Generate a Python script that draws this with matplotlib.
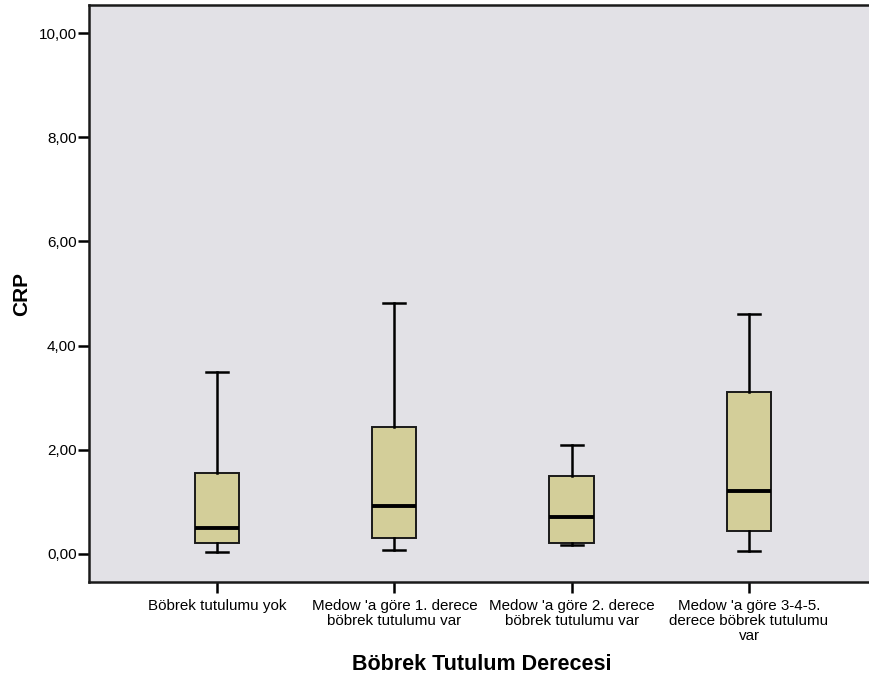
import matplotlib
matplotlib.use("Agg")
import matplotlib.pyplot as plt

plt.rcParams['font.family'] = ['Liberation Sans', 'DejaVu Sans']

# Category labels and box statistics for CRP by renal involvement grade
categories = [
    "Böbrek tutulumu yok",
    "Medow 'a göre 1. derece\nböbrek tutulumu var",
    "Medow 'a göre 2. derece\nböbrek tutulumu var",
    "Medow 'a göre 3-4-5.\nderece böbrek tutulumu\nvar",
]
whisker_low = [0.03, 0.08, 0.17, 0.05]
q1 = [0.21, 0.30, 0.21, 0.43]
median = [0.50, 0.91, 0.70, 1.20]
q3 = [1.55, 2.44, 1.50, 3.10]
whisker_high = [3.50, 4.82, 2.10, 4.60]

y_ticks = [0, 2, 4, 6, 8, 10]
y_tick_labels = ["0,00", "2,00", "4,00", "6,00", "8,00", "10,00"]

stats = []
for i in range(len(categories)):
    stats.append(dict(whislo=whisker_low[i], q1=q1[i], med=median[i],
                      q3=q3[i], whishi=whisker_high[i], fliers=[]))

fig = plt.figure(figsize=(8.69, 6.81), dpi=100)
ax = fig.add_axes([89 / 869, 99 / 681, 1 - 89 / 869, 577 / 681])
ax.set_facecolor('#E2E1E6')

positions = list(range(1, len(categories) + 1))
ax.bxp(stats, positions=positions, widths=0.25, patch_artist=True,
       showfliers=False,
       boxprops=dict(facecolor='#D3CE99', edgecolor='#1a1a1a', linewidth=1.4),
       medianprops=dict(color='black', linewidth=2.8),
       whiskerprops=dict(color='black', linewidth=1.8),
       capprops=dict(color='black', linewidth=1.8),
       capwidths=0.125)

ax.set_xlim(1 - 0.722, 4 + 0.677)
ax.set_ylim(-0.54, 10.54)

ax.set_yticks(y_ticks)
ax.set_yticklabels(y_tick_labels, fontsize=11)
ax.set_xticks(positions)
ax.set_xticklabels(categories, fontsize=10.9, linespacing=1.12)

ax.tick_params(axis='both', direction='out', length=8, width=1.8, color='black')
ax.tick_params(axis='y', pad=1)
ax.tick_params(axis='x', pad=4)

for side in ['left', 'bottom', 'top']:
    ax.spines[side].set_linewidth(1.8)
    ax.spines[side].set_color('#1a1a1a')
ax.spines['right'].set_visible(False)

fig.text(21.5 / 869, 1 - 294 / 681, "CRP", fontsize=15, fontweight='bold',
         rotation=90, ha='center', va='center')
fig.text(482 / 869, 1 - 665 / 681, "Böbrek Tutulum Derecesi", fontsize=15.5,
         fontweight='bold', ha='center', va='center')

fig.savefig("out.png", dpi=100)
